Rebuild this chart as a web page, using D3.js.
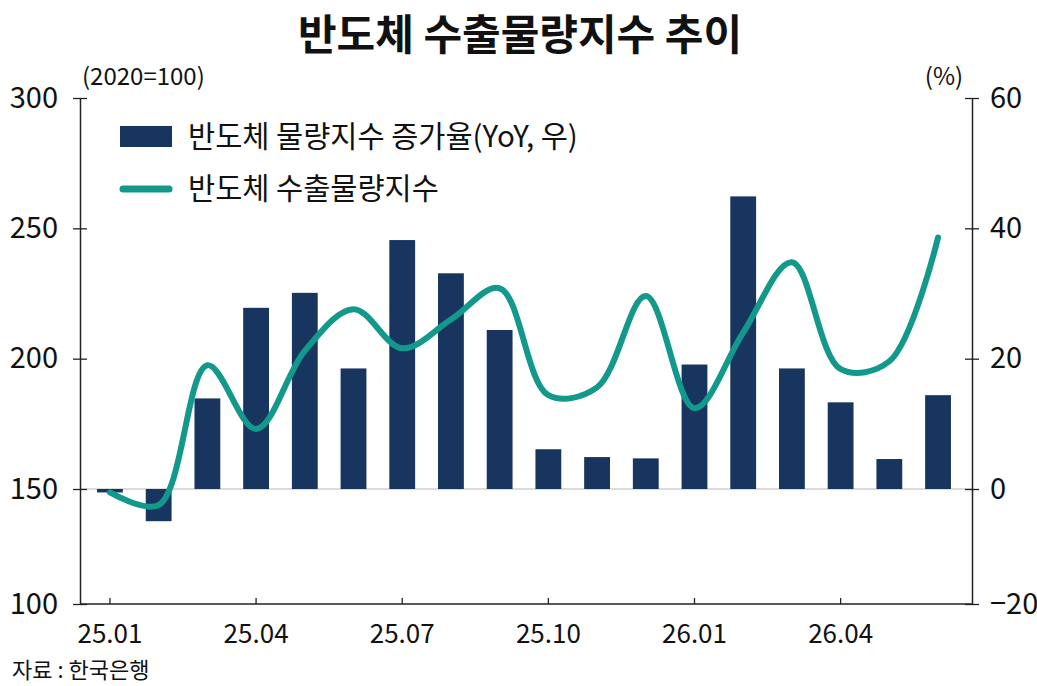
<!DOCTYPE html>
<html>
<head>
<meta charset="utf-8">
<script src="https://cdn.jsdelivr.net/npm/d3@7"></script>
<style>
  body { margin: 0; background: #fff; }
  text { font-family: "Noto Sans CJK KR", "Noto Sans", sans-serif; fill: #111; }
</style>
</head>
<body>
<div id="chart"></div>
<script>
// months on the x axis
const months = ['25.01','25.02','25.03','25.04','25.05','25.06','25.07','25.08','25.09',
                '25.10','25.11','25.12','26.01','26.02','26.03','26.04','26.05','26.06'];
// YoY growth of the volume index (%, right axis) - bars
const yoyGrowth = [-0.6, -5.6, 13.9, 27.8, 30.1, 18.5, 38.2, 33.1, 24.4,
                   6.1, 4.9, 4.7, 19.1, 44.9, 18.5, 13.3, 4.6, 14.4];
// export volume index (2020=100, left axis) - line
const volumeIndex = [148.5, 143, 197.5, 173, 203, 219, 204, 215, 227,
                     186, 189, 224, 181, 210, 237, 196, 199, 246.5];
const xTickLabels = ['25.01','25.04','25.07','25.10','26.01','26.04'];
const leftTicks = [100, 150, 200, 250, 300];
const rightTicks = [-20, 0, 20, 40, 60];

const width = 1037, height = 686;
const plotLeft = 80, plotRight = 972, plotTop = 98, plotBottom = 604;

const svg = d3.select('#chart').append('svg')
    .attr('width', width)
    .attr('height', height);

svg.append('rect').attr('width', width).attr('height', height).attr('fill', '#fff');

// title
svg.append('text')
    .attr('x', 520).attr('y', 50)
    .attr('text-anchor', 'middle')
    .style('font-size', '42px')
    .style('font-weight', 'bold')
    .text('반도체 수출물량지수 추이');

const x = d3.scaleBand()
    .domain(months)
    .range([85.6, 962.4])
    .paddingInner(0.47)
    .paddingOuter(0.235);

// the reference axis squeezes the bottom segment, so use piecewise scales
const yLeft = d3.scaleLinear().domain([100, 150, 300]).range([plotBottom, 489, plotTop]);
const yRight = d3.scaleLinear().domain([-20, 0, 60]).range([plotBottom, 489, plotTop]);

// zero line
svg.append('line')
    .attr('x1', plotLeft).attr('x2', plotRight)
    .attr('y1', yRight(0)).attr('y2', yRight(0))
    .attr('stroke', '#cfcfcf')
    .attr('stroke-width', 1.5);

// bars
svg.selectAll('.bar')
    .data(months)
    .enter()
    .append('rect')
    .attr('class', 'bar')
    .attr('x', d => x(d))
    .attr('width', x.bandwidth())
    .attr('y', (d, i) => Math.min(yRight(yoyGrowth[i]), yRight(0)))
    .attr('height', (d, i) => Math.abs(yRight(yoyGrowth[i]) - yRight(0)))
    .attr('fill', '#17355f');

// line
const line = d3.line()
    .x((d, i) => x(months[i]) + x.bandwidth() / 2)
    .y(d => yLeft(d))
    .curve(d3.curveCatmullRom.alpha(0.5));

svg.append('path')
    .datum(volumeIndex)
    .attr('d', line)
    .attr('fill', 'none')
    .attr('stroke', '#13998c')
    .attr('stroke-width', 6)
    .attr('stroke-linecap', 'round');

// axes
const gLeft = svg.append('g')
    .attr('transform', `translate(${plotLeft},0)`)
    .call(d3.axisLeft(yLeft).tickValues(leftTicks).tickSizeInner(7).tickSizeOuter(0).tickPadding(15));
gLeft.selectAll('.tick line').attr('x1', 7);

const gRight = svg.append('g')
    .attr('transform', `translate(${plotRight},0)`)
    .call(d3.axisRight(yRight).tickValues(rightTicks)
        .tickFormat(d => d < 0 ? '\u2212' + Math.abs(d) : d)
        .tickSizeInner(7).tickSizeOuter(0).tickPadding(11));
gRight.selectAll('.tick line').attr('x1', -7);

const gBottom = svg.append('g')
    .attr('transform', `translate(0,${plotBottom})`)
    .call(d3.axisBottom(x).tickValues(xTickLabels).tickSizeInner(-6).tickSizeOuter(0).tickPadding(21));
gBottom.select('.domain').attr('d', `M${plotLeft},0H${plotRight + 1}`);

[gLeft, gRight, gBottom].forEach(g => {
    g.select('.domain').attr('stroke', '#222').attr('stroke-width', 1.5);
    g.selectAll('.tick line').attr('stroke', '#222').attr('stroke-width', 1.3);
    g.selectAll('.tick text').attr('font-family', null).style('fill', '#111');
});
gLeft.selectAll('.tick text').style('font-size', '29px');
gRight.selectAll('.tick text').style('font-size', '29px');
gBottom.selectAll('.tick text').style('font-size', '26px');

// units
svg.append('text').attr('x', 82).attr('y', 85)
    .style('font-size', '24px').text('(2020=100)');
svg.append('text').attr('x', 944).attr('y', 85)
    .attr('text-anchor', 'middle')
    .style('font-size', '24px').text('(%)');

// legend
const legend = svg.append('g');
legend.append('rect')
    .attr('x', 120).attr('y', 126).attr('width', 52).attr('height', 21)
    .attr('fill', '#17355f');
legend.append('text')
    .attr('x', 188).attr('y', 147)
    .style('font-size', '29.5px')
    .text('반도체 물량지수 증가율(YoY, 우)');
legend.append('line')
    .attr('x1', 123).attr('x2', 169).attr('y1', 189).attr('y2', 189)
    .attr('stroke', '#13998c').attr('stroke-width', 7).attr('stroke-linecap', 'round');
legend.append('text')
    .attr('x', 188).attr('y', 199)
    .style('font-size', '29.5px')
    .text('반도체 수출물량지수');

// source
svg.append('text').attr('x', 12).attr('y', 678)
    .style('font-size', '22px').text('자료 : 한국은행');
</script>
</body>
</html>
